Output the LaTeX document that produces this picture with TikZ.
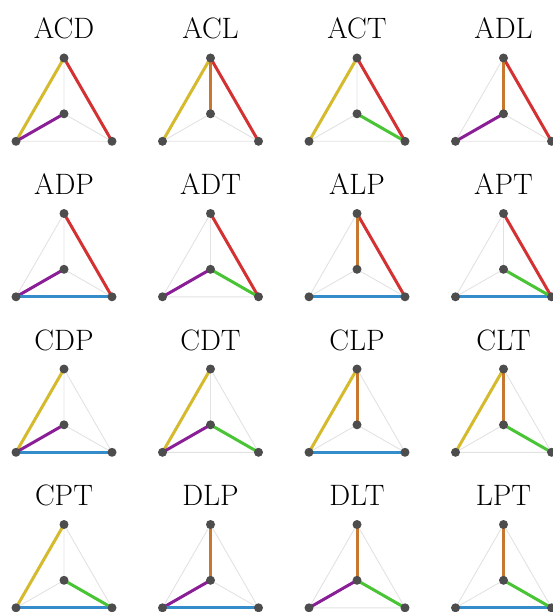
\documentclass[tikz,border=0pt]{standalone}
\definecolor{cA}{RGB}{212,50,50}
\definecolor{cC}{RGB}{212,186,44}
\definecolor{cD}{RGB}{138,30,150}
\definecolor{cL}{RGB}{200,120,46}
\definecolor{cP}{RGB}{52,140,202}
\definecolor{cT}{RGB}{72,196,52}
\definecolor{dotc}{RGB}{77,77,77}
\definecolor{faint}{RGB}{226,226,226}
\def\fromA{T}\def\toA{R}
\def\fromC{T}\def\toC{L}
\def\fromD{M}\def\toD{L}
\def\fromL{T}\def\toL{M}
\def\fromP{L}\def\toP{R}
\def\fromT{M}\def\toT{R}
\tikzset{
  faintedge/.style={draw=faint, line width=0.9pt},
  coledge/.style={line width=3pt},
  dot/.style={circle, fill=dotc, inner sep=0pt, minimum size=9pt},
  title/.style={anchor=base, font=\fontsize{29.5}{30}\selectfont, inner sep=0pt}
}
\begin{document}
\begin{tikzpicture}[x=1pt,y=1pt]
\useasboundingbox (0,0) rectangle (552,-612);
\foreach \lab/\col/\row/\edges in {
  ACD/0/0/{A,C,D}, ACL/1/0/{A,C,L}, ACT/2/0/{A,C,T}, ADL/3/0/{A,D,L},
  ADP/0/1/{A,D,P}, ADT/1/1/{A,D,T}, ALP/2/1/{A,L,P}, APT/3/1/{A,P,T},
  CDP/0/2/{C,D,P}, CDT/1/2/{C,D,T}, CLP/2/2/{C,L,P}, CLT/3/2/{C,L,T},
  CPT/0/3/{C,P,T}, DLP/1/3/{D,L,P}, DLT/2/3/{D,L,T}, LPT/3/3/{L,P,T}}{
  \begin{scope}[shift={(\col*146.5,-\row*155.5)}]
    \node[title] (N-\lab) at (64,-39) {\lab};
    \coordinate (T-\lab) at (64,-58);
    \coordinate (M-\lab) at (64,-113.8);
    \coordinate (L-\lab) at (16,-141.3);
    \coordinate (R-\lab) at (112,-141.3);
    \draw[faintedge] (T-\lab) -- (L-\lab) (T-\lab) -- (R-\lab) (T-\lab) -- (M-\lab)
      (M-\lab) -- (L-\lab) (M-\lab) -- (R-\lab) (L-\lab) -- (R-\lab);
    \foreach \e in \edges {
      \edef\ea{\csname from\e\endcsname-\lab}
      \edef\eb{\csname to\e\endcsname-\lab}
      \draw[coledge, draw=c\e] (\ea) -- (\eb);
    }
    \node[dot] (dT-\lab) at (T-\lab) {};
    \node[dot] (dM-\lab) at (M-\lab) {};
    \node[dot] (dL-\lab) at (L-\lab) {};
    \node[dot] (dR-\lab) at (R-\lab) {};
  \end{scope}
}
\end{tikzpicture}
\end{document}
